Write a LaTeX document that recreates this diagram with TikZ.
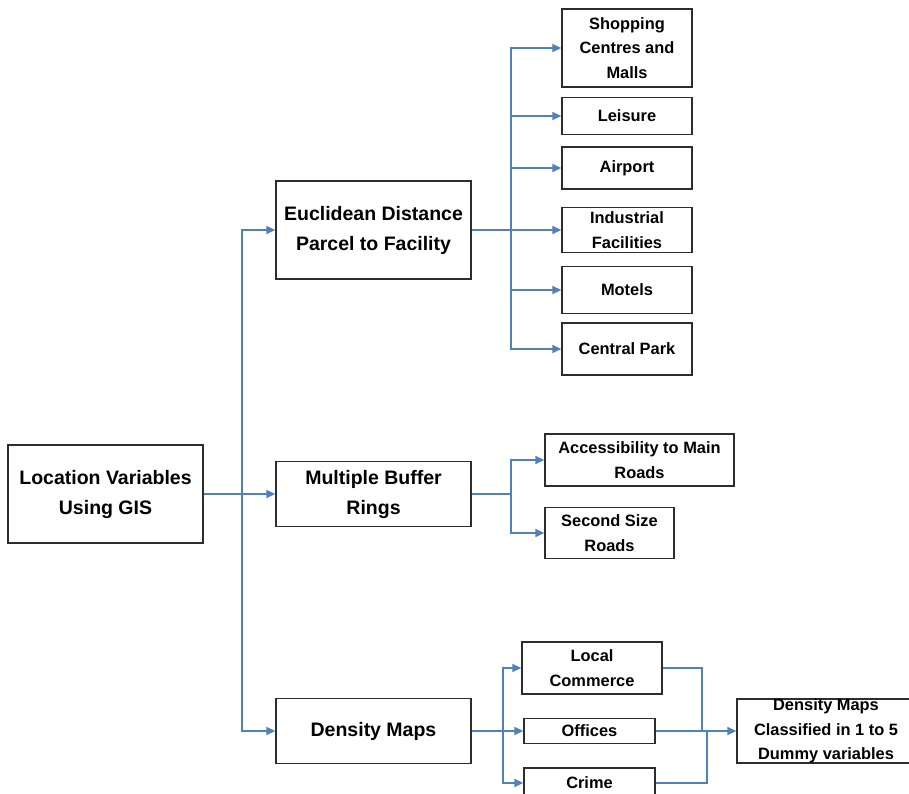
\documentclass[tikz,border=0pt]{standalone}
\usepackage{fontspec}
\setmainfont{Liberation Sans}
\usetikzlibrary{arrows.meta}
\definecolor{linkblue}{RGB}{79,129,189}
\definecolor{boxgray}{RGB}{45,45,45}
\tikzset{
  bigbox/.style={draw=boxgray, line width=1.4pt, fill=white, inner sep=0pt, align=center,
    font=\fontsize{19.5}{30}\selectfont\bfseries},
  smallbox/.style={draw=boxgray, line width=1.4pt, fill=white, inner sep=0pt, align=center,
    font=\fontsize{16.4}{24.5}\selectfont\bfseries},
  conn/.style={draw=linkblue, line width=1.8pt, -{Triangle[length=9pt,width=8pt]}},
  plain/.style={draw=linkblue, line width=1.8pt},
}
\begin{document}
\begin{tikzpicture}[x=1pt,y=-1pt]
\useasboundingbox (0,0) rectangle (909,794);
\clip (0,0) rectangle (909,794);
\fill[white] (0,0) rectangle (909,794);

% main boxes
\node[bigbox, minimum width=195pt, minimum height=98pt] (loc) at (105.5,494) {Location Variables\\Using GIS};
\node[bigbox, minimum width=195pt, minimum height=98pt] (euc) at (373.5,230) {Euclidean Distance\\Parcel to Facility};
\node[bigbox, minimum width=195pt, minimum height=65pt] (buf) at (373.5,494) {Multiple Buffer\\Rings};
\node[bigbox, minimum width=195pt, minimum height=65pt] (dens) at (373.5,731) {Density Maps};

% facility boxes
\node[smallbox, minimum width=130pt, minimum height=78pt] (shop) at (627,48) {Shopping\\Centres and\\Malls};
\node[smallbox, minimum width=130pt, minimum height=37pt] (leis) at (627,116) {Leisure};
\node[smallbox, minimum width=130pt, minimum height=42pt] (air) at (627,168) {Airport};
\node[smallbox, minimum width=130pt, minimum height=45pt] (ind) at (627,230) {Industrial\\Facilities};
\node[smallbox, minimum width=130pt, minimum height=47pt] (mot) at (627,290) {Motels};
\node[smallbox, minimum width=130pt, minimum height=52pt] (cp) at (627,349) {Central Park};

% buffer boxes
\node[smallbox, minimum width=189pt, minimum height=52pt] (acc) at (639.5,460) {Accessibility to Main\\Roads};
\node[smallbox, minimum width=129pt, minimum height=51pt] (sec) at (609.5,533) {Second Size\\Roads};

% density boxes
\node[smallbox, minimum width=140pt, minimum height=52pt] (lcom) at (592,668) {Local\\Commerce};
\node[smallbox, minimum width=131pt, minimum height=25pt] (off) at (589.5,731) {Offices};
\node[smallbox, minimum width=131pt, minimum height=30pt] (crime) at (589.5,783) {Crime};
\node[smallbox, minimum width=178pt, minimum height=62pt] (dmc) at (826,731) {Density Maps\\Classified in 1 to 5\\Dummy variables};

% connectors from location
\path (loc.east) -- ++(38,0) coordinate (t0);
\draw[conn] (loc.east) -- (buf.west);
\draw[conn] (t0) |- (euc.west);
\draw[conn] (t0) |- (dens.west);

% euclidean
\path (euc.east) -- ++(39,0) coordinate (t1);
\draw[plain] (euc.east) -- (t1);
\draw[conn] (t1) |- (shop.west);
\draw[conn] (t1) |- (leis.west);
\draw[conn] (t1) |- (air.west);
\draw[conn] (t1) |- (ind.west);
\draw[conn] (t1) |- (mot.west);
\draw[conn] (t1) |- (cp.west);

% buffer
\path (buf.east) -- ++(39,0) coordinate (t2);
\draw[plain] (buf.east) -- (t2);
\draw[conn] (t2) |- (acc.west);
\draw[conn] (t2) |- (sec.west);

% density
\path (dens.east) -- ++(31,0) coordinate (t3);
\draw[plain] (dens.east) -- (t3);
\draw[conn] (t3) |- (lcom.west);
\draw[conn] (t3) |- (off.west);
\draw[conn] (t3) |- (crime.west);

\path (off.east) -- ++(46,0) coordinate (m1);
\path (off.east) -- ++(51,0) coordinate (m2);
\draw[plain] (lcom.east) -| (m1);
\draw[plain] (crime.east) -| (m2);
\draw[conn] (off.east) -- (dmc.west);
\end{tikzpicture}
\end{document}
